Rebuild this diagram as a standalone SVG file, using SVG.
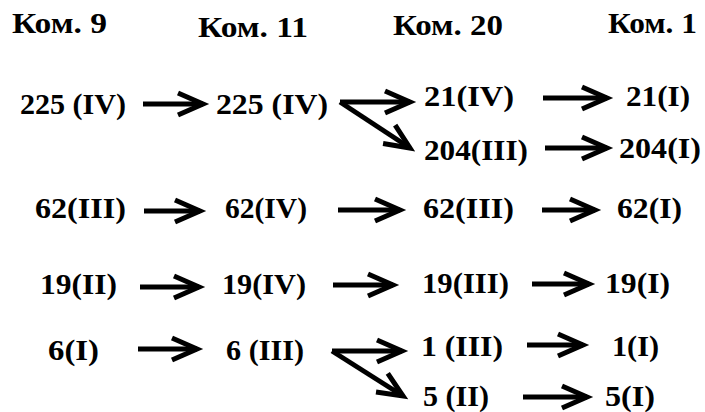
<svg xmlns="http://www.w3.org/2000/svg" width="705" height="412" viewBox="0 0 705 412">
  <style>
    text { font-family: 'Liberation Serif', 'Times New Roman', serif; font-weight: 700; fill: #000; }
    .hdr { font-size: 29px; }
    .lbl { font-size: 30px; }
    .arr { stroke: #000; stroke-width: 5; fill: none; marker-end: url(#head); }
  </style>
  <defs>
    <!-- open chevron arrowhead -->
    <marker id="head" markerUnits="userSpaceOnUse" viewBox="-32 -16 40 32" markerWidth="40" markerHeight="32" refX="0" refY="0" orient="auto" overflow="visible">
      <path d="M -25 -11 L 0 0 L -25 11" stroke="#000" stroke-width="5" fill="none" stroke-linejoin="miter"/>
    </marker>
  </defs>
  <rect width="705" height="412" fill="#fff"/>

  <!-- column headings -->
  <g id="headers">
    <text class="hdr" x="12" y="33" textLength="95" lengthAdjust="spacingAndGlyphs">Ком. 9</text>
    <text class="hdr" x="198" y="37" textLength="110" lengthAdjust="spacingAndGlyphs">Ком. 11</text>
    <text class="hdr" x="393" y="35" textLength="110" lengthAdjust="spacingAndGlyphs">Ком. 20</text>
    <text class="hdr" x="608" y="33" textLength="89" lengthAdjust="spacingAndGlyphs">Ком. 1</text>
  </g>

  <!-- row 1: 225 -->
  <g id="n225a"><text class="lbl" x="20" y="114" textLength="106" lengthAdjust="spacingAndGlyphs">225 (IV)</text></g>
  <g id="n225b"><text class="lbl" x="216" y="114" textLength="112" lengthAdjust="spacingAndGlyphs">225 (IV)</text></g>
  <g id="n21a"><text class="lbl" x="424" y="106" textLength="90" lengthAdjust="spacingAndGlyphs">21(IV)</text></g>
  <g id="n21b"><text class="lbl" x="626" y="106" textLength="64" lengthAdjust="spacingAndGlyphs">21(I)</text></g>
  <g id="n204a"><text class="lbl" x="424" y="160" textLength="104" lengthAdjust="spacingAndGlyphs">204(III)</text></g>
  <g id="n204b"><text class="lbl" x="619" y="158" textLength="82" lengthAdjust="spacingAndGlyphs">204(I)</text></g>

  <!-- row 2: 62 -->
  <g id="n62a"><text class="lbl" x="35" y="218" textLength="91" lengthAdjust="spacingAndGlyphs">62(III)</text></g>
  <g id="n62b"><text class="lbl" x="225" y="218" textLength="82" lengthAdjust="spacingAndGlyphs">62(IV)</text></g>
  <g id="n62c"><text class="lbl" x="423" y="218" textLength="91" lengthAdjust="spacingAndGlyphs">62(III)</text></g>
  <g id="n62d"><text class="lbl" x="617" y="218" textLength="65" lengthAdjust="spacingAndGlyphs">62(I)</text></g>

  <!-- row 3: 19 -->
  <g id="n19a"><text class="lbl" x="40" y="294" textLength="77" lengthAdjust="spacingAndGlyphs">19(II)</text></g>
  <g id="n19b"><text class="lbl" x="222" y="294" textLength="84" lengthAdjust="spacingAndGlyphs">19(IV)</text></g>
  <g id="n19c"><text class="lbl" x="422" y="293" textLength="87" lengthAdjust="spacingAndGlyphs">19(III)</text></g>
  <g id="n19d"><text class="lbl" x="605" y="293" textLength="65" lengthAdjust="spacingAndGlyphs">19(I)</text></g>

  <!-- row 4: 6 -->
  <g id="n6a"><text class="lbl" x="48" y="360" textLength="51" lengthAdjust="spacingAndGlyphs">6(I)</text></g>
  <g id="n6b"><text class="lbl" x="226" y="360" textLength="78" lengthAdjust="spacingAndGlyphs">6 (III)</text></g>
  <g id="n1a"><text class="lbl" x="421" y="356" textLength="82" lengthAdjust="spacingAndGlyphs">1 (III)</text></g>
  <g id="n1b"><text class="lbl" x="612" y="356" textLength="47" lengthAdjust="spacingAndGlyphs">1(I)</text></g>
  <g id="n5a"><text class="lbl" x="423" y="406" textLength="66" lengthAdjust="spacingAndGlyphs">5 (II)</text></g>
  <g id="n5b"><text class="lbl" x="605" y="406" textLength="50" lengthAdjust="spacingAndGlyphs">5(I)</text></g>

  <!-- connectors -->
  <g id="connectors">
    <path class="arr" d="M 143 104 L 203 104"/>
    <path class="arr" d="M 340 102 L 410 102"/>
    <path class="arr" d="M 340 102 L 410 148"/>
    <path class="arr" d="M 543 98 L 607 98"/>
    <path class="arr" d="M 545 148 L 607 148"/>

    <path class="arr" d="M 144 211 L 200 211"/>
    <path class="arr" d="M 338 210 L 400 210"/>
    <path class="arr" d="M 542 210 L 595 210"/>

    <path class="arr" d="M 140 287 L 199 287"/>
    <path class="arr" d="M 333 285 L 393 285"/>
    <path class="arr" d="M 532 284 L 589 284"/>

    <path class="arr" d="M 138 349 L 197 349"/>
    <path class="arr" d="M 332 351 L 402 351"/>
    <path class="arr" d="M 332 351 L 403 396"/>
    <path class="arr" d="M 527 345 L 583 345"/>
    <path class="arr" d="M 523 397 L 587 397"/>
  </g>
</svg>
